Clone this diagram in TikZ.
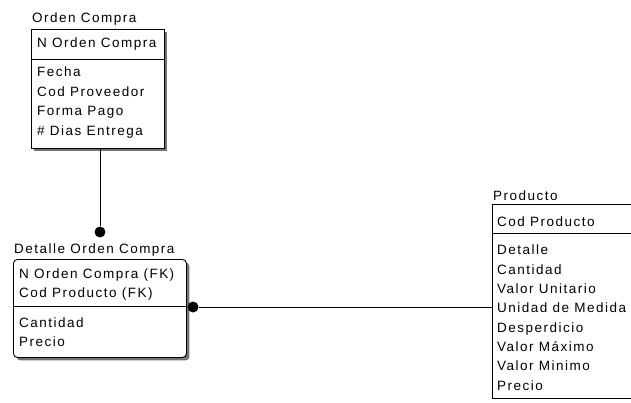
\documentclass[tikz,border=0pt]{standalone}
\usepackage{fontspec}
\setmainfont{Liberation Sans}[LetterSpace=11]
\usepackage{tikz}
\usetikzlibrary{shadows}
\tikzset{entity/.style={draw, fill=white, inner sep=0pt, anchor=north west,
   line width=0.9pt},
 entshadow/.style={drop shadow={shadow xshift=3pt, shadow yshift=-3pt,
   fill=black!55, opacity=1}},
 attr/.style={anchor=base west, inner sep=0pt},
 reldot/.style={circle, fill=black, inner sep=0pt, minimum size=11pt},
 }

\begin{document}
\begin{tikzpicture}[x=1pt, y=-1pt, font=\fontsize{13.5pt}{16pt}\selectfont]
        \useasboundingbox (0, 0) rectangle (631, 403);
        \clip (0, 0) rectangle (631, 403);
        \node[entity, entshadow, minimum width=133pt, minimum height=119pt] (orden) at (31, 29) {};
        \draw[line width=0.9pt] ([yshift=-30pt]orden.north west) -- ([yshift=-30pt]orden.north east);
        \node[entity, entshadow, rounded corners=4pt, minimum width=173pt, minimum height=98pt] (detalle) at (13, 259) {};
        \draw[line width=0.9pt] ([yshift=-47pt]detalle.north west) -- ([yshift=-47pt]detalle.north east);
        \node[entity, minimum width=160pt, minimum height=194pt] (producto) at (492, 204) {};
        \draw[line width=0.9pt] ([yshift=-29pt]producto.north west) -- ([yshift=-29pt]producto.north east);
        \node[attr] (ordenname) at (32, 23) {Orden Compra};
        \node[attr] (oc1) at (37, 48) {N Orden Compra};
        \node[attr] (oc2) at (37, 77) {Fecha};
        \node[attr] (oc3) at (37, 96.5) {Cod Proveedor};
        \node[attr] (oc4) at (37, 116) {Forma Pago};
        \node[attr] (oc5) at (37, 135.5) {\# Dias Entrega};
        \node[attr] (detallename) at (14, 253) {Detalle Orden Compra};
        \node[attr] (doc1) at (19, 278) {N Orden Compra (FK)};
        \node[attr] (doc2) at (19, 297.5) {Cod Producto (FK)};
        \node[attr] (doc3) at (19, 327) {Cantidad};
        \node[attr] (doc4) at (19, 346.5) {Precio};
        \node[attr] (productoname) at (493, 200.5) {Producto};
        \node[attr] (pr1) at (497, 226) {Cod Producto};
        \node[attr] (pr2) at (497, 254.5) {Detalle};
        \node[attr] (pr3) at (497, 274) {Cantidad};
        \node[attr] (pr4) at (497, 293) {Valor Unitario};
        \node[attr] (pr5) at (497, 312.5) {Unidad de Medida};
        \node[attr] (pr6) at (497, 332) {Desperdicio};
        \node[attr] (pr7) at (497, 351.5) {Valor Máximo};
        \node[attr] (pr8) at (497, 370.5) {Valor Minimo};
        \node[attr] (pr9) at (497, 390) {Precio};
        \node[reldot] (dotA) at (100, 232) {};
        \node[reldot] (dotB) at (193, 307) {};
        \draw[line width=0.9pt] (dotA |- orden.south) -- (dotA);
        \draw[line width=0.9pt] (dotB) -- (dotB -| producto.west);
    \end{tikzpicture}
\end{document}
